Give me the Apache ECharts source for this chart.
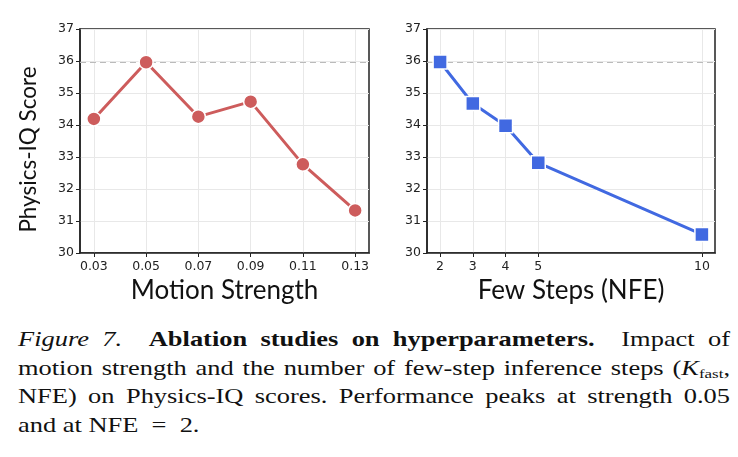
<!DOCTYPE html>
<html>
<head>
<meta charset="utf-8">
<script src="https://cdn.jsdelivr.net/npm/echarts@6/dist/echarts.min.js"></script>
<style>
	body { margin: 0; background: #fff; }
	#chart { position: absolute; left: 0; top: 0; width: 738px; height: 310px; }
	#caption {
		position: absolute; left: 18px; top: 325px; width: 566px;
		transform: scaleX(1.258); transform-origin: left top;
		font-family: 'Liberation Serif', 'DejaVu Serif', serif;
		font-size: 21px; line-height: 28.7px; color: #111;
	}
	#caption div { text-align: justify; text-align-last: justify; white-space: nowrap; }
	#caption div.last { text-align-last: left; }
	#caption sub { font-size: 13.5px; vertical-align: -3px; line-height: 0; }
</style>
</head>
<body>
<div id="chart"></div>
<div id="caption">
	<div><i>Figure 7.</i>&nbsp; <b>Ablation studies on hyperparameters.</b>&nbsp; Impact of</div>
	<div>motion strength and the number of few-step inference steps (<i>K</i><sub>fast</sub>,</div>
	<div>NFE) on Physics-IQ scores. Performance peaks at strength 0.05</div>
	<div class="last">and at NFE&ensp;=&ensp;2.</div>
</div>
<script>
// left panel: motion strength
var strength = [0.03, 0.05, 0.07, 0.09, 0.11, 0.13];
var strengthScore = [34.19, 35.96, 34.26, 34.73, 32.77, 31.33];
// right panel: few steps
var steps = [2, 3, 4, 5, 10];
var stepsScore = [35.97, 34.67, 33.98, 32.82, 30.58];
var bestScore = 35.97;

var chart = echarts.init(document.getElementById('chart'));

var tickFont = { fontFamily: 'DejaVu Sans', fontSize: 12.5, color: '#222' };
var gridLine = { show: true, lineStyle: { color: '#e8e8e8', width: 1 } };

function yAxis(idx, withName) {
	return {
		type: 'value', gridIndex: idx, min: 30, max: 37, interval: 1,
		name: withName ? 'Physics-IQ Score' : '',
		nameLocation: 'middle', nameGap: 40,
		nameTextStyle: { fontFamily: 'Lato', fontSize: 22.5, color: '#111', padding: [0, 17, 0, 0] },
		axisLine: { show: true, lineStyle: { color: '#222', width: 1.5 } },
		axisTick: { show: true, length: 4, lineStyle: { color: '#222' } },
		axisLabel: Object.assign({ margin: 6 }, tickFont),
		splitLine: gridLine
	};
}

function xAxis(idx, name, ticks, min, max, fmt) {
	return {
		type: 'value', gridIndex: idx, min: min, max: max,
		name: name, nameLocation: 'middle', nameGap: 21,
		nameTextStyle: { fontFamily: 'Lato', fontSize: 26, color: '#111' },
		axisLine: { show: true, lineStyle: { color: '#222', width: 1.5 } },
		axisTick: { show: true, length: 4, customValues: ticks, lineStyle: { color: '#222' } },
		axisLabel: Object.assign({ margin: 7, customValues: ticks, formatter: fmt }, tickFont),
		splitLine: { show: false }
	};
}

function bestLine() {
	return {
		silent: true, symbol: 'none', label: { show: false }, z: 1,
		lineStyle: { color: '#bbbbbb', type: [6, 4], width: 1.2 },
		data: [{ yAxis: bestScore }]
	};
}

// vertical grid lines at the tick values
function vLines(idx, ticks) {
	return {
		type: 'line', xAxisIndex: idx, yAxisIndex: idx, data: [], silent: true, z: 1,
		markLine: {
			silent: true, symbol: 'none', label: { show: false }, z: 0,
			lineStyle: { color: '#e8e8e8', type: 'solid', width: 1 },
			data: ticks.map(function (x) { return { xAxis: x }; })
		}
	};
}

option = {
	animation: false,
	grid : [
		{ left: 80, top: 29, width: 289, height: 224, show: true, borderColor: '#222', borderWidth: 1.5 },
		{ left: 427, top: 29, width: 288, height: 224, show: true, borderColor: '#222', borderWidth: 1.5 }
	],
	xAxis : [
		xAxis(0, 'Motion Strength', strength, 0.0247, 0.1353, function (v) { return v.toFixed(2); }),
		xAxis(1, 'Few Steps (NFE)', steps, 1.6, 10.4, function (v) { return String(v); })
	],
	yAxis : [ yAxis(0, true), yAxis(1, false) ],
	series : [ vLines(0, strength), vLines(1, steps), {
		type: 'line', xAxisIndex: 0, yAxisIndex: 0, z: 3,
		data: strength.map(function (x, i) { return [x, strengthScore[i]]; }),
		symbol: 'circle', symbolSize: 14,
		lineStyle: { color: '#cd5c5c', width: 3 },
		itemStyle: { color: '#cd5c5c', borderColor: '#fff', borderWidth: 1.5 },
		markLine: bestLine()
	}, {
		type: 'line', xAxisIndex: 1, yAxisIndex: 1, z: 3,
		data: steps.map(function (x, i) { return [x, stepsScore[i]]; }),
		symbol: 'rect', symbolSize: 14,
		lineStyle: { color: '#4169e1', width: 3 },
		itemStyle: { color: '#4169e1', borderColor: '#fff', borderWidth: 1.5 },
		markLine: bestLine()
	} ]
};

chart.setOption(option);
</script>
</body>
</html>
